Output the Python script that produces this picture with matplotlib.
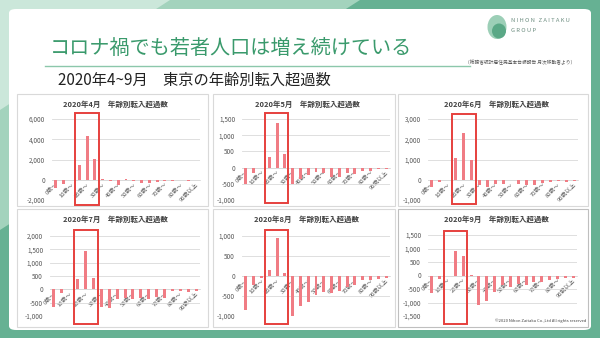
import matplotlib
matplotlib.use("Agg")
import matplotlib.pyplot as plt
from matplotlib.patches import Rectangle, FancyBboxPatch, Polygon, Ellipse
from matplotlib.transforms import blended_transform_factory
from matplotlib.ticker import FuncFormatter

plt.rcParams['font.family'] = ['Noto Sans CJK JP', 'DejaVu Sans']

# ---------------- data ----------------
age_labels = ["0歳～", "10歳～", "20歳～", "30歳～", "40歳～", "50歳～",
              "60歳～", "70歳～", "80歳～", "90歳以上"]
n_groups = 19  # 0-4, 5-9, ..., 85-89, 90+

months = ["2020年4月", "2020年5月", "2020年6月", "2020年7月", "2020年8月", "2020年9月"]

apr = [-800, -380, -50, 1500, 4350, 2050, 40, -130, -520, 30, -120, -300,
       -330, -230, -150, -100, -70, -90, -50]
may = [-510, -155, -20, 330, 1365, 425, -500, -365, -240, -125, -155, -300,
       -290, -165, -210, -95, -100, -50, -50]
jun = [-380, -100, -20, 1070, 2300, 1000, -250, -370, -230, -200, -30, -200,
       -280, -250, -170, -100, -80, -130, -70]
jul = [-660, -130, 30, 390, 1450, 420, -650, -710, -380, -310, -370, -310,
       -360, -300, -340, -80, -50, -90, -60]
aug = [-840, -230, -50, 160, 950, 80, -1000, -750, -650, -480, -400, -420,
       -370, -270, -230, -100, -100, -80, -40]
sep = [-660, -125, -25, 910, 710, 10, -1100, -940, -620, -350, -420, -300,
       -360, -250, -225, -160, -125, -90, -75]
series = [apr, may, jun, jul, aug, sep]

y_limits = [(-2000, 6000), (-1000, 1500), (-1000, 3000),
            (-1000, 2000), (-1000, 1000), (-1500, 1500)]
y_steps = [2000, 500, 1000, 500, 500, 500]
highlight = [(2.45, 5.5), (2.4, 5.45), (2.5, 5.6), (2.6, 5.6), (2.4, 5.45), (1.5, 4.5)]

# ---------------- layout helpers ----------------
W, H = 600, 338
fig = plt.figure(figsize=(6, 3.38), dpi=100)
fig.patch.set_facecolor('#66b193')

def fx(x):
    return x / W

def fy(y):
    return 1 - y / H

def fbox(x0, y0, x1, y1):
    return [fx(x0), fy(y1), fx(x1) - fx(x0), fy(y0) - fy(y1)]

# background decoration
fig.patches.append(Polygon([(fx(0), fy(0)), (fx(360), fy(0)), (fx(0), fy(230))],
                           closed=True, transform=fig.transFigure,
                           facecolor='#a3d3bd', edgecolor='none', zorder=0))
fig.patches.append(Polygon([(fx(0), fy(0)), (fx(170), fy(0)), (fx(0), fy(110))],
                           closed=True, transform=fig.transFigure,
                           facecolor='#cbe7da', edgecolor='none', zorder=0))
card = FancyBboxPatch((fx(9), fy(330)), fx(591) - fx(9), fy(9) - fy(330),
                      boxstyle="round,pad=0,rounding_size=0.012",
                      transform=fig.transFigure, facecolor='white',
                      edgecolor='none', zorder=1)
fig.patches.append(card)

# title and texts
fig.text(fx(50), fy(48), "コロナ禍でも若者人口は増え続けている", color='#3a9a6c',
         fontsize=14.5, ha='left', va='center', zorder=3)
fig.lines.append(plt.Line2D([fx(45), fx(470)], [fy(66), fy(66)],
                            transform=fig.transFigure, color='#8cc7ab', lw=1.0, zorder=3))
fig.text(fx(58), fy(80), "2020年4~9月　東京の年齢別転入超過数", color='#222222',
         fontsize=11, ha='left', va='center', zorder=3)
fig.text(fx(575), fy(62), "（総務省統計局住民基本台帳報告 月次移動者より）",
         color='#555555', fontsize=3.4, ha='right', va='center', zorder=3)

# logo
fig.patches.append(Ellipse((fx(497), fy(27)), fx(19), fy(0) - fy(24),
                           transform=fig.transFigure, facecolor='#9ccfb7',
                           edgecolor='none', zorder=3))
fig.patches.append(Ellipse((fx(499), fy(31)), fx(14), fy(0) - fy(15),
                           transform=fig.transFigure, facecolor='#5aa886',
                           edgecolor='none', zorder=3))
fig.text(fx(511), fy(21), "N I H O N   Z A I T A K U", color='#6f8f82',
         fontsize=4.2, ha='left', va='center', zorder=3)
fig.text(fx(511), fy(31), "G R O U P", color='#6f8f82',
         fontsize=4.2, ha='left', va='center', zorder=3)

# panels
panel_boxes = [(17, 94, 208, 206), (213, 94, 395, 206), (398, 94, 588, 206),
               (17, 209, 208, 327), (213, 209, 395, 327), (398, 209, 588, 327)]
axes_boxes = [(52, 119, 200, 200), (242, 119, 390, 200), (428, 119, 578, 200),
              (50, 236, 200, 316), (242, 236, 390, 316), (428, 235, 577, 316)]
red_y = [(113, 205), (113, 203), (114, 204), (230, 324), (230, 324), (231, 324)]

fmt = FuncFormatter(lambda v, p: f"{int(v):,}")
xs = list(range(n_groups))

for i in range(6):
    px0, py0, px1, py1 = panel_boxes[i]
    edge = '#bfbfbf' if i == 5 else '#d9d9d9'
    fig.patches.append(Rectangle((fx(px0), fy(py1)), fx(px1) - fx(px0), fy(py0) - fy(py1),
                                 transform=fig.transFigure, facecolor='white',
                                 edgecolor=edge, lw=0.8, zorder=2))
    fig.text((fx(px0) + fx(px1)) / 2 + 0.005, fy(py0 + 10),
             f"{months[i]}　年齢別転入超過数", fontsize=5.4, fontweight='bold',
             color='#404040', ha='center', va='center', zorder=3)

    ax = fig.add_axes(fbox(*axes_boxes[i]), zorder=4)
    ax.set_facecolor('none')
    ax.bar(xs, series[i], width=0.38, color='#f07c84', zorder=3)
    lo, hi = y_limits[i]
    ax.set_ylim(lo, hi)
    ax.set_yticks(list(range(lo, hi + 1, y_steps[i])))
    ax.yaxis.set_major_formatter(fmt)
    ax.set_xlim(-0.5, n_groups - 0.5)
    ax.grid(axis='y', color='#d9d9d9', lw=0.6, zorder=0)
    for s in ['top', 'right', 'left']:
        ax.spines[s].set_visible(False)
    ax.spines['bottom'].set_position(('data', 0))
    ax.spines['bottom'].set_color('#d9d9d9')
    ax.spines['bottom'].set_linewidth(0.6)
    ax.set_xticks(xs[::2])
    ax.set_xticklabels(age_labels, rotation=45, ha='right', va='top',
                       rotation_mode='anchor')
    ax.tick_params(axis='x', length=0, pad=1.5, labelsize=4.2, labelcolor='#595959')
    ax.tick_params(axis='y', length=0, pad=5, labelsize=4.6, labelcolor='#595959')

    # red highlight box
    ry0, ry1 = red_y[i]
    hx0, hx1 = highlight[i]
    tr = blended_transform_factory(ax.transData, fig.transFigure)
    ax.add_patch(Rectangle((hx0, fy(ry1)), hx1 - hx0, fy(ry0) - fy(ry1),
                           transform=tr, facecolor='none', edgecolor='#e6403d',
                           lw=1.4, clip_on=False, zorder=5))

fig.text(fx(586), fy(321), "©2020 Nihon Zaitaku Co.,Ltd All rights reserved",
         fontsize=3, color='#444444', ha='right', va='center', zorder=5)

fig.savefig("out.png", dpi=100, facecolor=fig.get_facecolor())
